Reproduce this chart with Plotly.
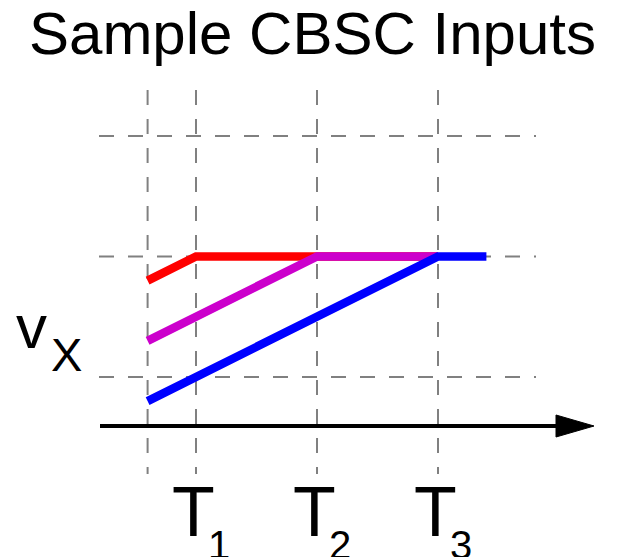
import plotly.graph_objects as go

# ---- data ----
t_labels = ["T<sub>1</sub>", "T<sub>2</sub>", "T<sub>3</sub>"]
t_marks = [1.0, 2.0, 3.0]
t_start = 0.6
t_end = 3.4
v_levels = [0.0, 1.0, 2.0]

red_t = [t_start, 1.0, 3.0]
red_v = [0.8, 1.0, 1.0]
magenta_t = [t_start, 2.0, 3.0]
magenta_v = [0.3, 1.0, 1.0]
blue_t = [t_start, 3.0, t_end]
blue_v = [-0.2, 1.0, 1.0]

W, H = 634, 557
PX_PER_T = 121.0
PX_PER_V = 120.5
X0_PX, T0 = 196.0, 1.0   # pixel of T1
Y0_PX, V0 = 377.0, 0.0   # pixel of v=0

def t_of(px):
    return T0 + (px - X0_PX) / PX_PER_T

def v_of(py):
    return V0 + (Y0_PX - py) / PX_PER_V

FONT = "Liberation Sans, Arial, Helvetica"

fig = go.Figure()
for tt, vv, col in [(red_t, red_v, "#ff0000"),
                    (magenta_t, magenta_v, "#cc00cc"),
                    (blue_t, blue_v, "#0000ff")]:
    fig.add_trace(go.Scatter(x=tt, y=vv, mode="lines",
                             line=dict(color=col, width=8.5),
                             hoverinfo="skip", showlegend=False))

shapes = []
grid = dict(color="#808080", width=2, dash="15px,14px")
for tx in [t_start] + t_marks:
    shapes.append(dict(type="line", xref="x", yref="y", x0=tx, x1=tx,
                       y0=v_of(90), y1=v_of(474), line=grid, layer="below"))
for vy in v_levels:
    shapes.append(dict(type="line", xref="x", yref="y", x0=t_of(99), x1=t_of(536),
                       y0=vy, y1=vy, line=grid, layer="below"))
axis_v = v_of(426)
shapes.append(dict(type="line", xref="x", yref="y", x0=t_of(100), x1=t_of(560),
                   y0=axis_v, y1=axis_v, line=dict(color="black", width=4)))
shapes.append(dict(type="path", xref="x", yref="y", xsizemode="pixel", ysizemode="pixel",
                   xanchor=t_of(594), yanchor=axis_v,
                   path="M0,0 L-38,11 L-38,-11 Z", fillcolor="black",
                   line=dict(color="black", width=1)))

annotations = [
    dict(text="Sample CBSC Inputs", x=312 / W, y=1 - 33 / H, xref="paper", yref="paper",
         showarrow=False, font=dict(size=60, color="black", family=FONT),
         xanchor="center", yanchor="middle"),
    dict(text="v", x=31 / W, y=1 - 326 / H, xref="paper", yref="paper",
         showarrow=False, font=dict(size=62, color="black", family=FONT),
         xanchor="center", yanchor="middle"),
    dict(text="X", x=66 / W, y=1 - 354 / H, xref="paper", yref="paper",
         showarrow=False, font=dict(size=47, color="black", family=FONT),
         xanchor="center", yanchor="middle"),
]
for tx, lab in zip(t_marks, t_labels):
    main, sub = lab.split("<sub>")
    sub = sub.replace("</sub>", "")
    annotations.append(dict(text=main, x=tx, y=1 - 512 / H, xref="x", yref="paper",
                            xshift=-3, showarrow=False,
                            font=dict(size=70, color="black", family=FONT),
                            xanchor="center", yanchor="middle"))
    annotations.append(dict(text=sub, x=tx, y=1 - 545 / H, xref="x", yref="paper",
                            xshift=23, showarrow=False,
                            font=dict(size=40, color="black", family=FONT),
                            xanchor="center", yanchor="middle"))

fig.update_layout(
    width=W, height=H, margin=dict(l=0, r=0, t=0, b=0),
    paper_bgcolor="white", plot_bgcolor="white",
    xaxis=dict(range=[t_of(0), t_of(W)], visible=False, showgrid=False, zeroline=False, fixedrange=True),
    yaxis=dict(range=[v_of(H), v_of(0)], visible=False, showgrid=False, zeroline=False, fixedrange=True),
    shapes=shapes, annotations=annotations, showlegend=False,
)
fig.write_html("out.html", config={"displayModeBar": False},
               post_script="document.body.style.margin='0';document.body.style.overflow='hidden';")
